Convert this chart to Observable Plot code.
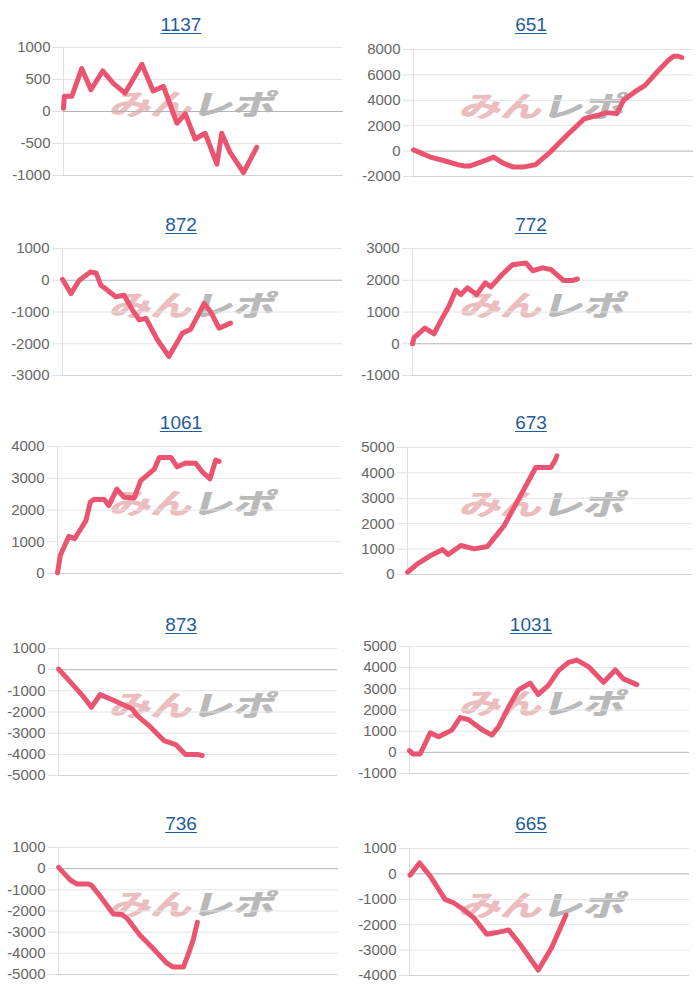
<!DOCTYPE html>
<html><head><meta charset="utf-8">
<script src="https://cdn.jsdelivr.net/npm/d3@7"></script>
<script src="https://cdn.jsdelivr.net/npm/@observablehq/plot@0.6"></script>
<style>
body{margin:0;background:#fff;font-family:"Liberation Sans",Arial,sans-serif;}
#grid{position:relative;width:700px;height:1000px;overflow:hidden;}
.cell{position:absolute;width:350px;height:200px;}
.title{position:absolute;left:0;width:362px;text-align:center;font-size:19px;line-height:22px;}
.title a{color:#1f5c99;text-decoration:underline;text-underline-offset:2px;}
.wm{position:absolute;left:116px;white-space:nowrap;font-family:"Noto Sans CJK JP",sans-serif;font-weight:700;font-size:29px;line-height:30px;transform:skewX(-16deg) scaleX(1.42);transform-origin:left top;}
.wm .a{color:#ebbdbf;text-shadow:1px 0 0 #ebbdbf;}
.wm .b{color:#b9b9b9;text-shadow:1px 0 0 #b9b9b9;}
.cell svg{position:absolute;left:0;top:0;}
</style>
</head><body>
<div id="grid"></div>
<script>
// ---- data (x = progress along the session, 0-100; y = balance) ----
const titles = ["1137","651","872","772","1061","673","873","1031","736","665"];

const s1137 = [[0,50],[0.3,240],[3,240],[6.5,670],[9.8,340],[14,633],[17.9,435],[22,288],[28,738],[32,320],[35.7,393],[40.5,-183],[43.5,-37],[47,-430],[50.6,-340],[54.8,-822],[56.5,-340],[59.5,-640],[64.3,-953],[69,-560]];
const s651 = [[0,100],[6,-470],[10.7,-740],[15.5,-1050],[18.5,-1180],[20,-1180],[25,-790],[28.6,-470],[32,-950],[35.7,-1260],[39,-1260],[43.5,-1080],[48.8,-80],[54.8,1240],[61,2550],[65.5,2800],[69,3030],[72.6,2950],[75,4000],[79,4660],[82.7,5180],[87,6230],[91,7160],[92.9,7470],[94.6,7470],[95.8,7370]];
const s872 = [[0,30],[3,-420],[6,0],[10,260],[12,230],[13.7,-160],[16,-310],[19,-520],[22,-470],[25,-940],[27.4,-1250],[29.8,-1200],[33.9,-1875],[38,-2400],[42.8,-1670],[45.8,-1540],[50.6,-730],[52.9,-990],[55.9,-1510],[60,-1350]];
const s772 = [[0,0],[0.6,200],[1.8,285],[4.4,495],[7.7,315],[10.3,760],[13,1180],[15.5,1690],[17.3,1550],[19.6,1760],[22.9,1550],[26,1920],[28,1790],[32,2180],[35.7,2490],[40.5,2545],[42.9,2300],[46.4,2390],[49.4,2340],[54,1990],[57,1990],[58.9,2040]];
const s1061 = [[0,20],[1,575],[2.3,835],[4,1170],[6,1100],[8.2,1410],[10,1670],[11.5,2245],[12.6,2330],[16.4,2330],[18,2140],[20.8,2660],[23.4,2400],[26.9,2380],[29.2,2925],[34,3290],[35.7,3655],[39.8,3655],[42,3360],[45,3480],[48.5,3470],[50.9,3190],[53.5,2980],[55.5,3570],[56.7,3530]];
const s673 = [[0,90],[3.5,420],[8.2,750],[12.3,980],[14.3,785],[18.7,1140],[23.4,1010],[28,1100],[31.6,1600],[33.9,1920],[37.4,2645],[42,3590],[45,4210],[50.3,4210],[51.7,4475],[52.4,4670]];
const s873 = [[0,30],[3.8,-520],[8.6,-1225],[11.8,-1775],[14.9,-1180],[19.9,-1460],[26.5,-1855],[28.2,-2170],[32.4,-2640],[37.8,-3350],[42,-3540],[45.5,-4010],[49.7,-4010],[51.5,-4055]];
const s1031 = [[0,80],[1.2,-80],[3.8,-80],[7.4,920],[10.4,735],[12.7,890],[15.1,1050],[18.1,1640],[21,1550],[25.8,1080],[29.4,810],[31.8,1200],[35.4,2140],[38.9,2950],[43.1,3270],[46,2735],[49.6,3160],[53.2,3860],[56.8,4250],[59.8,4360],[63.9,4050],[69.3,3310],[73.5,3890],[76.4,3470],[81.2,3200]];
const s736 = [[0,60],[2.4,-280],[4.2,-535],[6.5,-720],[10.7,-720],[11.9,-800],[14.9,-1305],[19.6,-2140],[22.6,-2170],[24.4,-2330],[29.2,-3160],[34.5,-3870],[38.7,-4465],[41,-4650],[44.6,-4650],[46.4,-4025],[48.2,-3320],[49.6,-2530]];
const s665 = [[0.2,-50],[3.6,430],[7.4,-90],[12.7,-1005],[15.7,-1135],[19.3,-1400],[22.9,-1720],[27.6,-2375],[31.2,-2310],[35.4,-2205],[39.5,-2770],[46,-3785],[50.8,-2900],[55.9,-1620]];

const seriesList = [s1137, s651, s872, s772, s1061, s673, s873, s1031, s736, s665];
const yMins  = [-1000, -2000, -3000, -1000, 0, 0, -5000, -1000, -5000, -4000];
const yMaxs  = [1000, 8000, 1000, 3000, 4000, 5000, 1000, 5000, 1000, 1000];
const ySteps = [500, 2000, 1000, 1000, 1000, 1000, 1000, 1000, 1000, 1000];

// ---- layout ----
const plotLeft  = [63, 63, 62, 62, 57, 57, 58, 59, 58, 59];
const plotRight = [343, 343, 342, 342, 342, 342, 337, 339, 338, 339];
const plotTop   = [47, 49, 48, 48, 46, 47, 48, 46, 47, 48];
const plotBot   = [175, 176, 175, 175, 173, 174, 175, 173, 174, 175];
const titleY    = [25, 25, 25, 25, 23, 23, 25, 25, 24, 24];

const grid = document.getElementById("grid");
seriesList.forEach((s, i) => {
  const col = i % 2, row = Math.floor(i / 2);
  const cell = document.createElement("div");
  cell.className = "cell";
  cell.style.left = (col * 350) + "px";
  cell.style.top = (row * 200) + "px";

  const t = document.createElement("div");
  t.className = "title";
  t.style.top = (titleY[i] - 11) + "px";
  t.innerHTML = `<a>${titles[i]}</a>`;
  cell.appendChild(t);

  const wm = document.createElement("div");
  wm.className = "wm";
  wm.style.top = (plotTop[i] + 40) + "px";
  wm.innerHTML = `<span class="a">みん</span><span class="b">レポ</span>`;
  cell.appendChild(wm);

  const lo = yMins[i], hi = yMaxs[i], st = ySteps[i];
  const ticks = d3.range(lo, hi + st / 2, st);
  const data = s.map(([x, y]) => ({x, y}));

  const svg = Plot.plot({
    width: 350,
    height: 200,
    marginLeft: plotLeft[i],
    marginRight: 350 - plotRight[i],
    marginTop: plotTop[i],
    marginBottom: 200 - plotBot[i],
    style: {background: "transparent", fontSize: "15px", fontFamily: "'Liberation Sans', Arial, sans-serif", color: "#666"},
    x: {domain: [0, 100], axis: null},
    y: {domain: [lo, hi], axis: null},
    marks: [
      Plot.gridY(ticks.filter(v => v !== 0 && v !== lo), {stroke: "#e4e4e4", strokeOpacity: 1}),
      Plot.ruleY([lo], {stroke: "#d2d2d2"}),
      Plot.ruleX([0], {stroke: "#e0e0e0"}),
      Plot.axisY(ticks, {tickSize: 10, tickPadding: 3, stroke: "#e0e0e0", fill: "#666", label: null, tickFormat: d => String(d)}),
      ...(lo < 0 ? [Plot.ruleY([0], {stroke: "#b4b4b4", x1: 0, x2: 100})] : []),
      Plot.line(data, {x: "x", y: "y", stroke: "#ea5471", strokeWidth: 5, strokeLinejoin: "round", strokeLinecap: "round"})
    ]
  });
  cell.appendChild(svg);
  grid.appendChild(cell);
});
</script>
</body></html>
